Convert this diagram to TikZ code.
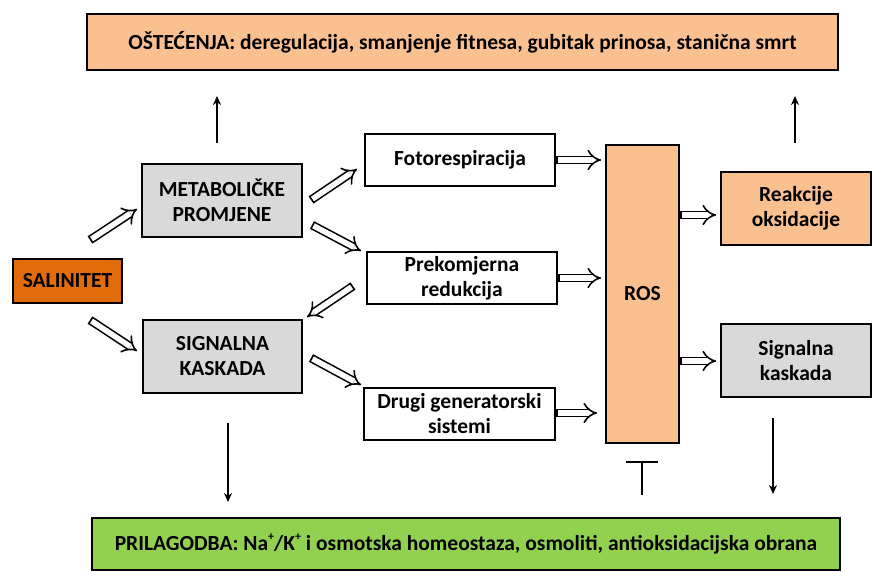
\documentclass[tikz,border=0pt]{standalone}
\usepackage{fontspec}
\setmainfont{Carlito}
\usetikzlibrary{arrows.meta}
\definecolor{salor}{HTML}{E26B0A}
\definecolor{peach}{HTML}{FAC090}
\definecolor{grayb}{HTML}{D9D9D9}
\definecolor{greenb}{HTML}{92D050}
\newcommand{\plussup}{\raisebox{0.42em}{\fontsize{12}{12}\selectfont +}}
\tikzset{
  box/.style={draw=black, line width=1.8pt, inner sep=0pt, align=center, font=\bfseries\fontsize{21.5}{25}\selectfont},
  dbl/.style={double, double distance=5.5pt, line width=1.6pt, {Bar[width=8.7pt,line width=1.6pt]}-{Implies[length=8pt,width=17pt]}},
  sarr/.style={line width=1.5pt, -{Stealth[length=9pt,width=8pt]}},
}
\begin{document}
\begin{tikzpicture}[x=1pt,y=-1pt]
\useasboundingbox (0,0) rectangle (872,572);
\node[box, fill=peach, minimum width=751, minimum height=56] (top) at (462.5,42) {OŠTEĆENJA: deregulacija, smanjenje fitnesa, gubitak prinosa, stanična smrt};
\node[box, fill=salor, minimum width=109, minimum height=44] (salin) at (67.5,281) {SALINITET};
\node[box, fill=grayb, minimum width=160, minimum height=73] (metab) at (222,200.5) {METABOLIČKE\\PROMJENE};
\node[box, fill=grayb, minimum width=159, minimum height=73] (sig) at (222.5,356.5) {SIGNALNA\\KASKADA};
\node[box, fill=white, minimum width=190, minimum height=52] (foto) at (460,160) {Fotorespiracija};
\node[box, fill=white, minimum width=190, minimum height=52] (prek) at (462,278) {Prekomjerna\\redukcija};
\node[box, fill=white, minimum width=191, minimum height=52] (drugi) at (459.5,414) {Drugi generatorski\\sistemi};
\node[box, fill=peach, minimum width=73, minimum height=298] (ros) at (642.5,294) {ROS};
\node[box, fill=peach, minimum width=150, minimum height=73] (reak) at (796,208.5) {Reakcije\\oksidacije};
\node[box, fill=grayb, minimum width=150, minimum height=73] (sigr) at (796,360.5) {Signalna\\kaskada};
\node[box, fill=greenb, minimum width=748, minimum height=52] (bot) at (466,544) {PRILAGODBA: Na\plussup/K\plussup{} i osmotska homeostaza, osmoliti, antioksidacijska obrana};
% floating arrow ends
\coordinate (a1s) at (90,240); \coordinate (a1e) at (137,209);
\coordinate (a2s) at (90,320); \coordinate (a2e) at (137,351);
\coordinate (a3s) at (311,200); \coordinate (a3e) at (357,169);
\coordinate (a4s) at (312,225); \coordinate (a4e) at (361,251);
\coordinate (a5s) at (353,286); \coordinate (a5e) at (307,317);
\coordinate (a6s) at (311,358); \coordinate (a6e) at (361,385);
\draw[dbl] (a1s) -- (a1e);
\draw[dbl] (a2s) -- (a2e);
\draw[dbl] (a3s) -- (a3e);
\draw[dbl] (a4s) -- (a4e);
\draw[dbl] (a5s) -- (a5e);
\draw[dbl] (a6s) -- (a6e);
\draw[dbl, shorten >=4pt] (foto.east) -- (ros.west |- foto.east);
\draw[dbl, shorten >=4pt] (prek.east) -- (ros.west |- prek.east);
\draw[dbl, shorten >=8pt] ([yshift=1pt]drugi.east) -- ([yshift=1pt]ros.west |- drugi.east);
\draw[dbl, shorten >=4pt] (ros.east |- 0,215) -- (reak.west |- 0,215);
\draw[dbl, shorten >=4pt] (ros.east |- 0,361) -- (sigr.west |- 0,361);
% single arrows
\coordinate (u1) at (217,143); \coordinate (u2) at (795,143);
\draw[sarr] (u1) -- (u1 |- 0,96);
\draw[sarr] (u2) -- (u2 |- 0,96);
\coordinate (d1) at (228,423); \coordinate (d2) at (773,418);
\draw[sarr] (d1) -- (d1 |- 0,502);
\draw[sarr] (d2) -- (d2 |- 0,494);
% inhibition bar
\coordinate (t1) at (642,495);
\draw[line width=1.5pt] (t1) -- (t1 |- 0,462);
\draw[line width=1.5pt] (626,462) -- (658,462);
\end{tikzpicture}
\end{document}
